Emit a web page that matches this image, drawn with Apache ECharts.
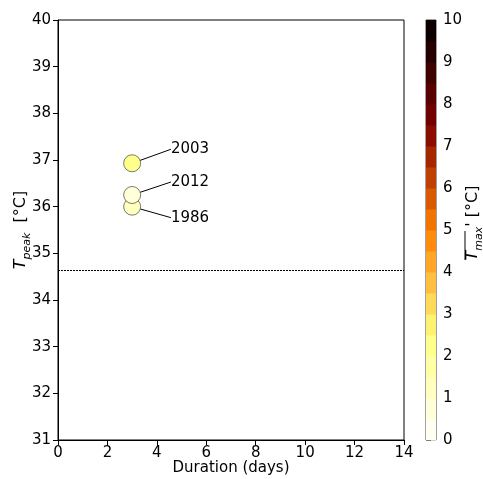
<!DOCTYPE html>
<html>
<head>
<meta charset="utf-8">
<script src="https://cdn.jsdelivr.net/npm/echarts@6/dist/echarts.min.js"></script>
<style>
  html, body { margin: 0; padding: 0; background: #fff; }
  #main { width: 483px; height: 479px; }
</style>
</head>
<body>
<div id="main"></div>
<script>
// heatwave events: duration vs peak temperature, coloured by mean Tmax anomaly
const years = ['1986', '2003', '2012'];
const durations = [3, 3, 3];
const tPeak = [36.0, 36.93, 36.25];
const tMaxAnom = [1.3, 2.1, 0.8];
const threshold = 34.64;

const cbLevels = [0, 0.5, 1, 1.5, 2, 2.5, 3, 3.5, 4, 4.5, 5, 5.5, 6, 6.5, 7, 7.5, 8, 8.5, 9, 9.5, 10];
const cbMax = 10;

const FONT = 'DejaVu Sans';

// afmhot reversed
function afmhotR(t) {
    const x = 1 - Math.min(1, Math.max(0, t));
    const c = v => Math.round(Math.min(1, Math.max(0, v)) * 255);
    return `rgb(${c(2 * x)},${c(2 * x - 0.5)},${c(2 * x - 1)})`;
}
function binColor(v) {
    let i = 0;
    while (i < cbLevels.length - 2 && v >= cbLevels[i + 1]) i++;
    return afmhotR((cbLevels[i] + cbLevels[i + 1]) / 2 / cbMax);
}

// label offsets (px) for the annotations
const labelOffsets = { '1986': [25, 11], '2003': [25, -14], '2012': [25, -13] };

const pts = years.map((y, i) => ({
    name: y,
    value: [durations[i], tPeak[i]],
    itemStyle: { color: binColor(tMaxAnom[i]) }
}));
// draw 2012 over 1986 like the picture
const order = ['2003', '1986', '2012'];
pts.sort((a, b) => order.indexOf(a.name) - order.indexOf(b.name));

const cbData = cbLevels.slice(0, -1).map((lo, i) => [lo, cbLevels[i + 1]]);

let chart = echarts.init(document.getElementById('main'), null, { renderer: 'canvas' });

const axisCommon = {
    axisLine: { show: true, onZero: false, lineStyle: { color: '#000', width: 1 } },
    axisTick: { show: true, inside: false, length: 5, lineStyle: { color: '#000' } },
    axisLabel: { color: '#000', fontFamily: FONT, fontSize: 15, margin: 7 },
    splitLine: { show: false },
    nameMoveOverlap: false
};

chart.setOption({
    animation: false,
    textStyle: { fontFamily: FONT },
    grid: [
        { left: 58, right: 79, top: 20, bottom: 39, show: true, borderColor: '#000', borderWidth: 1,
          outerBoundsMode: 'none', containLabel: false },
        { left: 426, width: 10, top: 20, bottom: 39, show: true, borderColor: '#444', borderWidth: 1,
          outerBoundsMode: 'none', containLabel: false }
    ],
    xAxis: [
        Object.assign({}, axisCommon, {
            gridIndex: 0, type: 'value', min: 0, max: 14, interval: 2,
            axisLabel: { color: '#000', fontFamily: FONT, fontSize: 15, margin: 6 },
            name: 'Duration (days)', nameLocation: 'middle', nameGap: 21,
            nameTextStyle: { color: '#000', fontFamily: FONT, fontSize: 15 }
        }),
        { gridIndex: 1, type: 'value', min: 0, max: 1, show: false }
    ],
    yAxis: [
        Object.assign({}, axisCommon, {
            gridIndex: 0, type: 'value', min: 31, max: 40, interval: 1,
            name: '{i|T}{s|peak}{n|  [°C]}', nameLocation: 'middle', nameGap: 25,
            nameTextStyle: {
                color: '#000', fontFamily: FONT, fontSize: 15, lineHeight: 24,
                rich: {
                    i: { fontStyle: 'italic', fontSize: 16, fontFamily: FONT, verticalAlign: 'middle' },
                    s: { fontStyle: 'italic', fontSize: 11, fontFamily: FONT, verticalAlign: 'bottom' },
                    n: { fontSize: 16, fontFamily: FONT, verticalAlign: 'middle' }
                }
            }
        }),
        Object.assign({}, axisCommon, {
            gridIndex: 1, type: 'value', min: 0, max: 10, interval: 1, position: 'right',
            axisLine: { show: false },
            axisLabel: { color: '#000', fontFamily: FONT, fontSize: 15, margin: 7 }
        })
    ],
    series: [
        {
            type: 'scatter',
            xAxisIndex: 0, yAxisIndex: 0,
            symbolSize: 17,
            itemStyle: { borderColor: '#222', borderWidth: 0.6, opacity: 1 },
            data: pts,
            label: {
                show: true, position: 'right', distance: 5,
                formatter: p => p.name,
                color: '#000', fontFamily: FONT, fontSize: 15
            },
            labelLine: { show: true, lineStyle: { color: '#000', width: 1 } },
            labelLayout: function (p) {
                const name = pts[p.dataIndex].name;
                const o = labelOffsets[name];
                return { dx: o[0], dy: o[1] };
            },
            markLine: {
                silent: true, symbol: 'none', label: { show: false },
                lineStyle: { color: '#000', type: [2, 1], width: 1 },
                data: [{ yAxis: threshold }]
            }
        },
        {
            type: 'custom',
            xAxisIndex: 1, yAxisIndex: 1,
            data: cbData,
            renderItem: function (params, api) {
                const lo = api.value(0), hi = api.value(1);
                const p0 = api.coord([0, lo]);
                const p1 = api.coord([1, hi]);
                return {
                    type: 'rect',
                    shape: { x: p0[0], y: p1[1], width: p1[0] - p0[0], height: p0[1] - p1[1] + 0.5 },
                    style: { fill: afmhotR((lo + hi) / 2 / cbMax) }
                };
            }
        }
    ],
    graphic: [
        {
            type: 'text', x: 473, y: 223, rotation: Math.PI / 2,
            style: {
                text: '{i|T}{s|max}{n|\' [°C]}',
                align: 'center', verticalAlign: 'middle',
                fill: '#000', font: '16px "DejaVu Sans"', lineHeight: 24,
                rich: {
                    i: { fontStyle: 'italic', fontSize: 16, fontFamily: FONT, verticalAlign: 'middle' },
                    s: { fontStyle: 'italic', fontSize: 11, fontFamily: FONT, verticalAlign: 'bottom' },
                    n: { fontSize: 16, fontFamily: FONT, verticalAlign: 'middle' }
                }
            }
        },
        {
            type: 'line',
            shape: { x1: 465, y1: 231, x2: 465, y2: 260 },
            style: { stroke: '#000', lineWidth: 1 }
        }
    ]
});
</script>
</body>
</html>
